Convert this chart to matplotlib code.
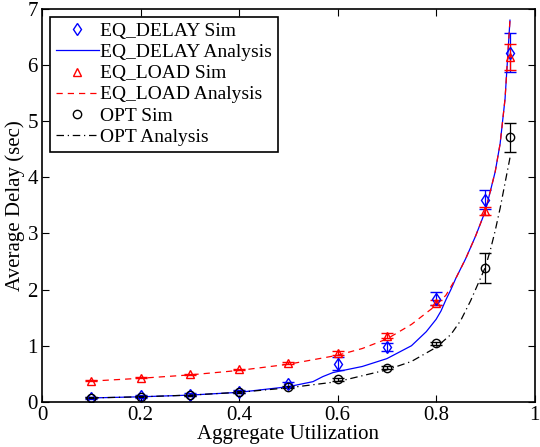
import matplotlib
matplotlib.use("Agg")
import matplotlib.pyplot as plt
from matplotlib.lines import Line2D
import numpy as np

plt.rcParams['font.family'] = ['Liberation Serif', 'DejaVu Serif']

# simulation points
x_sim = [0.1, 0.2, 0.3, 0.4, 0.5, 0.6, 0.7, 0.8, 0.9, 0.95]
eqd_sim = [0.07, 0.10, 0.13, 0.18, 0.31, 0.68, 0.97, 1.84, 3.60, 6.22]
eqd_err = [0.02, 0.03, 0.03, 0.03, 0.04, 0.12, 0.07, 0.12, 0.17, 0.35]
eql_sim = [0.38, 0.43, 0.49, 0.58, 0.69, 0.87, 1.18, 1.77, 3.40, 6.14]
eql_err = [0.01, 0.01, 0.01, 0.01, 0.02, 0.04, 0.04, 0.05, 0.07, 0.23]
opt_sim = [0.07, 0.09, 0.12, 0.17, 0.26, 0.40, 0.61, 1.04, 2.38, 4.71]
opt_err = [0.01, 0.01, 0.01, 0.02, 0.02, 0.02, 0.03, 0.03, 0.27, 0.25]

# analysis curves
x_eqd = [0.1, 0.2, 0.3, 0.4, 0.5, 0.55, 0.57, 0.59, 0.6, 0.65, 0.7, 0.75, 0.78,
         0.8, 0.81, 0.82, 0.83, 0.84, 0.86, 0.88, 0.9, 0.92, 0.93, 0.94, 0.95]
y_eqd = [0.07, 0.09, 0.12, 0.17, 0.27, 0.36, 0.45, 0.52, 0.54, 0.63, 0.77, 1.0, 1.25,
         1.47, 1.62, 1.82, 2.0, 2.2, 2.55, 2.95, 3.4, 4.1, 4.6, 5.4, 6.8]
x_eql = [0.1, 0.2, 0.3, 0.4, 0.5, 0.6, 0.65, 0.7, 0.75, 0.8, 0.82, 0.84, 0.86, 0.88,
         0.9, 0.92, 0.93, 0.94, 0.95]
y_eql = [0.37, 0.42, 0.48, 0.56, 0.67, 0.83, 0.95, 1.12, 1.38, 1.72, 1.9, 2.2, 2.55, 2.95,
         3.4, 4.1, 4.6, 5.4, 6.8]
x_opt = [0.1, 0.2, 0.3, 0.4, 0.5, 0.6, 0.7, 0.75, 0.8, 0.83, 0.85, 0.87, 0.89,
         0.9, 0.91, 0.92, 0.93, 0.94, 0.95]
y_opt = [0.07, 0.09, 0.12, 0.17, 0.25, 0.36, 0.57, 0.72, 0.97, 1.2, 1.45, 1.8, 2.2,
         2.4, 2.7, 3.05, 3.45, 3.9, 4.35]

fig = plt.figure(figsize=(5.4, 4.47), dpi=100)
ax = fig.add_axes([0.078, 0.101, 0.912, 0.879])

ax.errorbar(x_sim, eqd_sim, yerr=eqd_err, fmt='d', color='blue', mfc='none',
            ms=6, capsize=4, lw=0.9)
ax.plot(x_eqd, y_eqd, '-', color='blue', lw=0.9)
ax.errorbar(x_sim, eql_sim, yerr=eql_err, fmt='^', color='red', mfc='none',
            ms=6, capsize=4, lw=0.9)
ax.plot(x_eql, y_eql, '--', color='red', lw=0.9, dashes=(5, 4))
ax.errorbar(x_sim, opt_sim, yerr=opt_err, fmt='o', color='black', mfc='none',
            ms=6, capsize=4, lw=0.9)
ax.plot(x_opt, y_opt, '-.', color='black', lw=0.9, dashes=(6, 3, 1, 3))

ax.set_xlim(0, 1)
ax.set_ylim(0, 7)
ax.set_xticks(np.arange(0, 1.01, 0.2))
ax.set_xticklabels(['0', '0.2', '0.4', '0.6', '0.8', '1'])
ax.set_yticks(range(8))
ax.tick_params(direction='in', top=True, right=True, labelsize=15, length=5, pad=3)
for s in ax.spines.values():
    s.set_linewidth(1.2)
ax.set_xlabel('Aggregate Utilization', fontsize=15, labelpad=0)
ax.set_ylabel('Average Delay (sec)', fontsize=15, labelpad=2)

handles = [
    Line2D([], [], ls='none', marker='d', color='blue', mfc='none', ms=6),
    Line2D([], [], ls='-', color='blue', lw=0.9),
    Line2D([], [], ls='none', marker='^', color='red', mfc='none', ms=6),
    Line2D([], [], ls='--', color='red', lw=0.9, dashes=(5, 4)),
    Line2D([], [], ls='none', marker='o', color='black', mfc='none', ms=6),
    Line2D([], [], ls='-.', color='black', lw=0.9, dashes=(6, 3, 1, 3)),
]
labels = ['EQ_DELAY Sim', 'EQ_DELAY Analysis', 'EQ_LOAD Sim',
          'EQ_LOAD Analysis', 'OPT Sim', 'OPT Analysis']
leg = ax.legend(handles, labels, loc='upper left', fontsize=14, frameon=True,
                fancybox=False, edgecolor='black', handlelength=2.2,
                handletextpad=0.1, borderpad=0.3, labelspacing=0.18,
                borderaxespad=0.4, framealpha=1)
leg.get_frame().set_linewidth(1.2)

fig.savefig('out.png', dpi=100)
